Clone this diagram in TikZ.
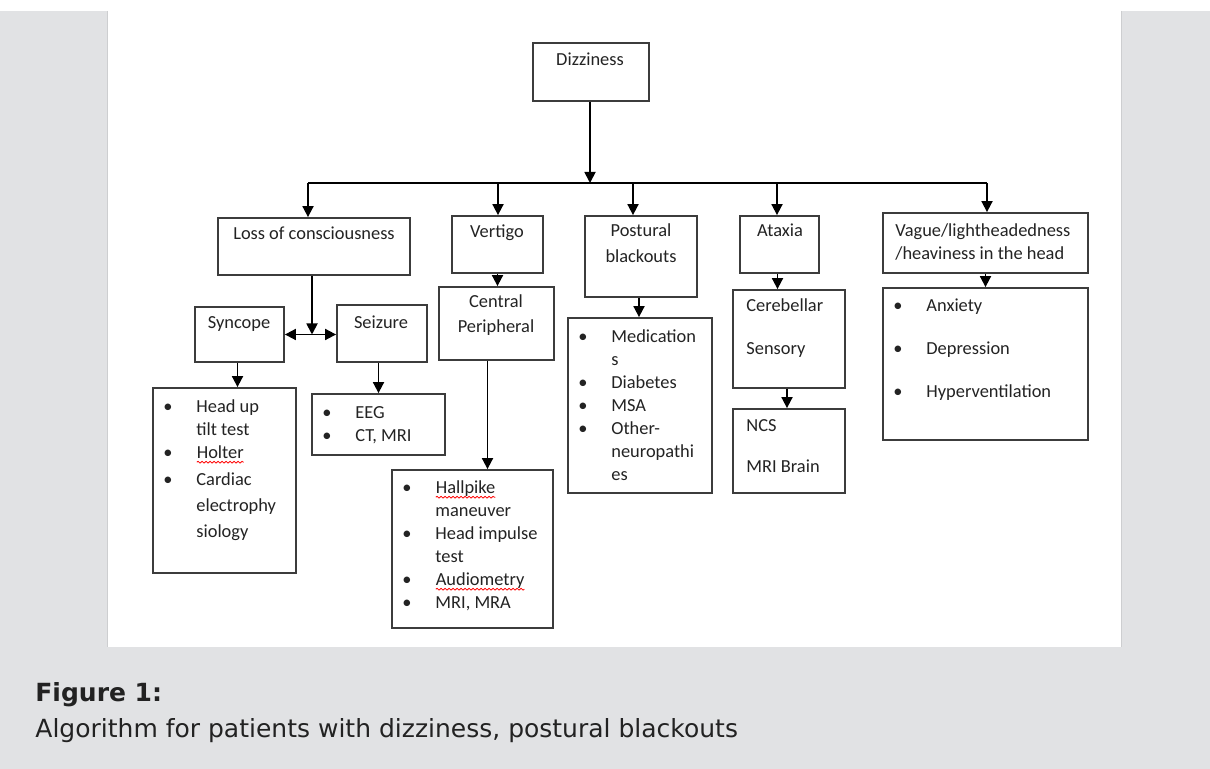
\documentclass[tikz,border=0pt]{standalone}
\usepackage{fontspec}
\setmainfont{Carlito}
\newfontfamily\capfont{DejaVu Sans}
\usetikzlibrary{arrows.meta,decorations.pathmorphing}

\definecolor{pagegray}{RGB}{225,226,228}
\definecolor{edgegray}{RGB}{205,206,208}
\definecolor{boxline}{RGB}{60,60,60}
\definecolor{ink}{RGB}{35,35,35}
\definecolor{capink}{RGB}{34,34,34}

% red spell-check squiggle under a word
\newcommand{\spellerr}[1]{\tikz[baseline=(sq.base)]{\node[inner sep=0pt, outer sep=0pt] (sq) {#1};
	\draw[red, line width=0.4pt, decorate, decoration={snake, amplitude=0.45pt, segment length=2pt}] ([yshift=-1.6pt]sq.base west) -- ([yshift=-1.6pt]sq.base east);}}
\newcommand{\ctext}[1]{\begin{tabular}[t]{@{}c@{}}#1\end{tabular}}
\newcommand{\ltext}[1]{\begin{tabular}[t]{@{}l@{}}#1\end{tabular}}
\newcommand{\btext}[1]{\begin{tabular}[t]{@{}p{16.5pt}@{}l@{}}#1\end{tabular}}
\newcommand{\bu}{\textbullet &}

\tikzset{
	box/.style={draw=boxline, line width=0.9pt, rectangle, inner sep=0pt},
	lbl/.style={inner sep=0pt, anchor=base, text=ink, font=\fontsize{9.2}{11.5}\selectfont},
	lbll/.style={lbl, anchor=base west},
	conn/.style={line width=0.9pt, draw=black},
	arr/.style={conn, -{Triangle[length=5.5pt,width=5.5pt]}},
	arrs/.style={conn, {Triangle[length=5.5pt,width=5.5pt]}-{Triangle[length=5.5pt,width=5.5pt]}},
	captxt/.style={inner sep=0pt, anchor=base west, text=capink}
}

\begin{document}
\begin{tikzpicture}[x=0.5pt, y=-0.5pt]
			\useasboundingbox (0,0) rectangle (1210,769);
			% page and figure panel
			\fill[white] (0,0) rectangle (1210,769);
			\fill[pagegray] (0,11) rectangle (1210,769);
			\fill[white] (107,0) rectangle (1122,647);
			\draw[edgegray, line width=0.6pt] (107.5,11) -- (107.5,647) (1121.5,11) -- (1121.5,647);
			% boxes
			\node[box, minimum width=58pt, minimum height=29pt] (dizzy) at (591,72) {};
			\node[box, minimum width=96pt, minimum height=28.5pt] (loss) at (314,246.5) {};
			\node[box, minimum width=45.5pt, minimum height=28.5pt] (vertigo) at (497.5,244.5) {};
			\node[box, minimum width=56pt, minimum height=40.5pt] (postural) at (641,256.5) {};
			\node[box, minimum width=39.5pt, minimum height=28.5pt] (ataxia) at (779.5,244.5) {};
			\node[box, minimum width=102.5pt, minimum height=30pt] (vague) at (985.5,243) {};
			\node[box, minimum width=44.5pt, minimum height=27.5pt] (syncope) at (239.5,334.5) {};
			\node[box, minimum width=45pt, minimum height=28.5pt] (seizure) at (382,333.5) {};
			\node[box, minimum width=57.5pt, minimum height=36.5pt] (central) at (496.5,323.5) {};
			\node[box, minimum width=56pt, minimum height=49pt] (cereb) at (789,339) {};
			\node[box, minimum width=56pt, minimum height=42pt] (ncs) at (789,451) {};
			\node[box, minimum width=71.5pt, minimum height=92.5pt] (synlist) at (224.5,480.5) {};
			\node[box, minimum width=66.5pt, minimum height=30.5pt] (seizlist) at (378.5,424.5) {};
			\node[box, minimum width=80.5pt, minimum height=79pt] (vertlist) at (472.5,549) {};
			\node[box, minimum width=72pt, minimum height=87.5pt] (postlist) at (640,405.5) {};
			\node[box, minimum width=102.5pt, minimum height=76pt] (vaguelist) at (985.5,364) {};
			% texts
			\node[lbl] (dizzy-t) at (590,66) {Dizziness};
			\node[lbl] (loss-t) at (314,240) {Loss of consciousness};
			\node[lbl] (vertigo-t) at (497,238) {Vertigo};
			\node[lbl] (postural-t) at (641,237) {\ctext{Postural\\[1.5pt] blackouts}};
			\node[lbl] (ataxia-t) at (780,237) {Ataxia};
			\node[lbll] (vague-t) at (895,237) {\ltext{Vague/lightheadedness\\ /heaviness in the head}};
			\node[lbl] (syncope-t) at (239,329) {Syncope};
			\node[lbl] (seizure-t) at (381,329) {Seizure};
			\node[lbl] (central-t) at (496,308) {\ctext{Central\\[1pt] Peripheral}};
			\node[lbll] (cereb-t) at (746,312) {\ltext{Cerebellar\\[10pt] Sensory}};
			\node[lbll] (ncs-t) at (746,432) {\ltext{NCS\\[9pt] MRI Brain}};
			\node[lbll] (synlist-t) at (163,413) {\btext{\bu Head up\\ & tilt test\\ \bu \spellerr{Holter}\\[2pt] \bu Cardiac\\[1.5pt] & electrophy\\[1.5pt] & siology}};
			\node[lbll] (seizlist-t) at (322,419) {\btext{\bu EEG\\ \bu CT, MRI}};
			\node[lbll] (vertlist-t) at (402,494) {\btext{\bu \spellerr{Hallpike}\\ & maneuver\\ \bu Head impulse\\ & test\\ \bu \spellerr{Audiometry}\\ \bu MRI, MRA}};
			\node[lbll] (postlist-t) at (578,343) {\btext{\bu Medication\\ & s\\ \bu Diabetes\\ \bu MSA\\ \bu Other-\\ & neuropathi\\ & es}};
			\node[lbll] (vaguelist-t) at (893,312) {\btext{\bu Anxiety\\[10pt] \bu Depression\\[10pt] \bu Hyperventilation}};
			% connectors
			\coordinate (bus-l) at (308,183);
			\coordinate (bus-v) at (498,183);
			\coordinate (bus-p) at (633,183);
			\coordinate (bus-a) at (777,183);
			\coordinate (bus-r) at (987,183);
			\draw[arr] ([xshift=-0.5pt]dizzy.south) -- ([xshift=-0.5pt]dizzy.south |- bus-l);
			\draw[conn] (bus-l) -- (bus-r);
			\draw[arr] (bus-l) -- (bus-l |- loss.north);
			\draw[arr] (bus-v) -- (bus-v |- vertigo.north);
			\draw[arr] (bus-p) -- (bus-p |- postural.north);
			\draw[arr] (bus-a) -- (bus-a |- ataxia.north);
			\draw[arr] (bus-r) -- (bus-r |- vague.north);
			\draw[arr] ([xshift=-1pt]loss.south) -- ([xshift=-1pt]loss.south |- syncope.east);
			\draw[arrs] (syncope.east) -- (syncope.east -| seizure.west);
			\draw[arr] ([xshift=-1pt]syncope.south) -- ([xshift=-1pt]syncope.south |- synlist.north);
			\draw[arr] (seizlist.north |- seizure.south) -- (seizlist.north);
			\draw[arr] (vertigo.south) -- (vertigo.south |- central.north);
			\draw[arr] ([xshift=-4.5pt]central.south) -- ([xshift=-4.5pt]central.south |- vertlist.north);
			\draw[arr] ([xshift=-1pt]postural.south) -- ([xshift=-1pt]postural.south |- postlist.north);
			\draw[arr] ([xshift=-1pt]ataxia.south) -- ([xshift=-1pt]ataxia.south |- cereb.north);
			\draw[arr] ([xshift=-1pt]cereb.south) -- ([xshift=-1pt]cereb.south |- ncs.north);
			\draw[arr] (vague.south) -- (vague.south |- vaguelist.north);
			% caption
			\node[captxt, font=\capfont\bfseries\fontsize{12.5}{15}\selectfont] (figlabel) at (35,701) {Figure 1:};
			\node[captxt, font=\capfont\fontsize{12.5}{15}\selectfont] (figcaption) at (35,737) {Algorithm for patients with dizziness, postural blackouts};
		\end{tikzpicture}
\end{document}
